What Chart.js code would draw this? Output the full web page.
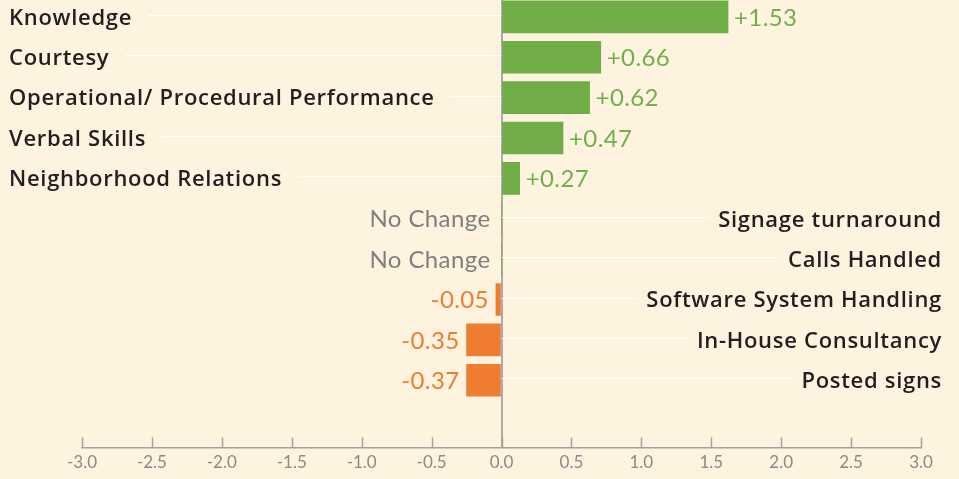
<!DOCTYPE html>
<html>
<head>
<meta charset="utf-8">
<script src="https://cdn.jsdelivr.net/npm/chart.js@4/dist/chart.umd.min.js"></script>
<style>
  html, body { margin: 0; padding: 0; background: #fef3de; }
  #wrap { width: 959px; height: 479px; position: relative; }
</style>
</head>
<body>
<div id="wrap"><canvas id="c"></canvas></div>
<script>
// ---- data ----
const categories = [
  'Knowledge', 'Courtesy', 'Operational/ Procedural Performance', 'Verbal Skills',
  'Neighborhood Relations', 'Signage turnaround', 'Calls Handled',
  'Software System Handling', 'In-House Consultancy', 'Posted signs'
];
const barValues = [1.62, 0.71, 0.63, 0.44, 0.13, 0, 0, -0.04, -0.25, -0.25];
const valueLabels = ['+1.53', '+0.66', '+0.62', '+0.47', '+0.27', 'No Change', 'No Change', '-0.05', '-0.35', '-0.37'];
const xTicks = [-3.0, -2.5, -2.0, -1.5, -1.0, -0.5, 0.0, 0.5, 1.0, 1.5, 2.0, 2.5, 3.0];

// ---- styles ----
const BG = '#fef3de';
const GREEN = '#70ad47';
const GREEN_TEXT = '#6eb04a';
const ORANGE = '#ee7d32';
const GREY_TEXT = '#7f7f7f';
const AXIS = '#a3a3a3';
const CAT_FONT = '600 22px "Open Sans"';
const CAT_SPACING = '0.7px';
const VAL_FONT = '400 24px Lato';
const VAL_SPACING = '0.4px';

const points = barValues.map((v, i) => ({ x: v, y: i }));

const labelPlugin = {
  id: 'labels',
  beforeDraw(chart) {
    const { ctx, width, height } = chart;
    ctx.save();
    ctx.fillStyle = BG;
    ctx.fillRect(0, 0, width, height);
    ctx.restore();
  },
  beforeDatasetsDraw(chart) {
    const { ctx } = chart;
    const xs = chart.scales.x;
    const zero = xs.getPixelForValue(0);
    const meta = chart.getDatasetMeta(0);
    ctx.save();
    ctx.font = CAT_FONT;
    ctx.letterSpacing = CAT_SPACING;
    ctx.strokeStyle = '#ffffff';
    ctx.lineWidth = 1.2;
    meta.data.forEach((bar, i) => {
      const y = Math.round(bar.y) - 1.5;
      const w = ctx.measureText(categories[i]).width;
      ctx.beginPath();
      if (barValues[i] > 0) {
        ctx.moveTo(9 + w + 16, y);
        ctx.lineTo(zero, y);
      } else {
        ctx.moveTo(zero, y);
        ctx.lineTo(942 - w - 10, y);
      }
      ctx.stroke();
    });
    // upward tick marks on the x axis
    ctx.strokeStyle = AXIS;
    ctx.lineWidth = 1.5;
    const bottom = chart.chartArea.bottom;
    xs.ticks.forEach((t, k) => {
      const px = Math.round(xs.getPixelForTick(k)) + 0.5;
      ctx.beginPath();
      ctx.moveTo(px, bottom - 10);
      ctx.lineTo(px, bottom);
      ctx.stroke();
    });
    ctx.restore();
  },
  afterDatasetsDraw(chart) {
    const { ctx } = chart;
    const meta = chart.getDatasetMeta(0);
    ctx.save();
    ctx.textBaseline = 'middle';
    meta.data.forEach((bar, i) => {
      const v = barValues[i];
      const y = bar.y;
      // category label
      ctx.font = CAT_FONT;
      ctx.letterSpacing = CAT_SPACING;
      ctx.fillStyle = '#231f20';
      if (v > 0) {
        ctx.textAlign = 'left';
        ctx.fillText(categories[i], 9, y + 1.5);
      } else {
        ctx.textAlign = 'right';
        ctx.fillText(categories[i], 942, y + 1.5);
      }
      // value label
      ctx.font = VAL_FONT;
      ctx.letterSpacing = VAL_SPACING;
      if (v > 0) {
        ctx.fillStyle = GREEN_TEXT;
        ctx.textAlign = 'left';
        ctx.fillText(valueLabels[i], Math.max(bar.x, bar.base) + 6, y + 1);
      } else {
        ctx.fillStyle = v < 0 ? ORANGE : GREY_TEXT;
        ctx.textAlign = 'right';
        ctx.fillText(valueLabels[i], Math.min(bar.x, bar.base) - (v < 0 ? 7 : 11), y + 1);
      }
    });
    ctx.restore();
  }
};

new Chart(document.getElementById('c'), {
  type: 'bar',
  data: {
    datasets: [{
      data: points,
      backgroundColor: barValues.map(v => v >= 0 ? GREEN : ORANGE),
      borderWidth: 0,
      barThickness: 32
    }]
  },
  options: {
    indexAxis: 'y',
    responsive: true,
    maintainAspectRatio: false,
    animation: false,
    layout: { padding: { left: 82, right: 38, top: 0, bottom: 1 } },
    plugins: { legend: { display: false }, tooltip: { enabled: false } },
    scales: {
      x: {
        type: 'linear',
        min: -3, max: 3,
        afterBuildTicks: (s) => { s.ticks = xTicks.map(v => ({ value: v })); },
        grid: {
          drawTicks: false,
          color: (c) => (c.tick && c.tick.value === 0) ? '#aaaaaa' : 'rgba(0,0,0,0)',
          lineWidth: 2
        },
        border: { display: true, color: AXIS, width: 1.5 },
        ticks: {
          padding: 5,
          color: '#8a8a8a',
          font: { family: 'Lato', size: 17 },
          callback: (v) => Number(v).toFixed(1),
          maxRotation: 0,
          autoSkip: false
        }
      },
      y: {
        type: 'linear',
        reverse: true,
        offset: false,
        min: -0.4185,
        max: 10.668,
        display: false
      }
    }
  },
  plugins: [labelPlugin]
});
</script>
</body>
</html>
